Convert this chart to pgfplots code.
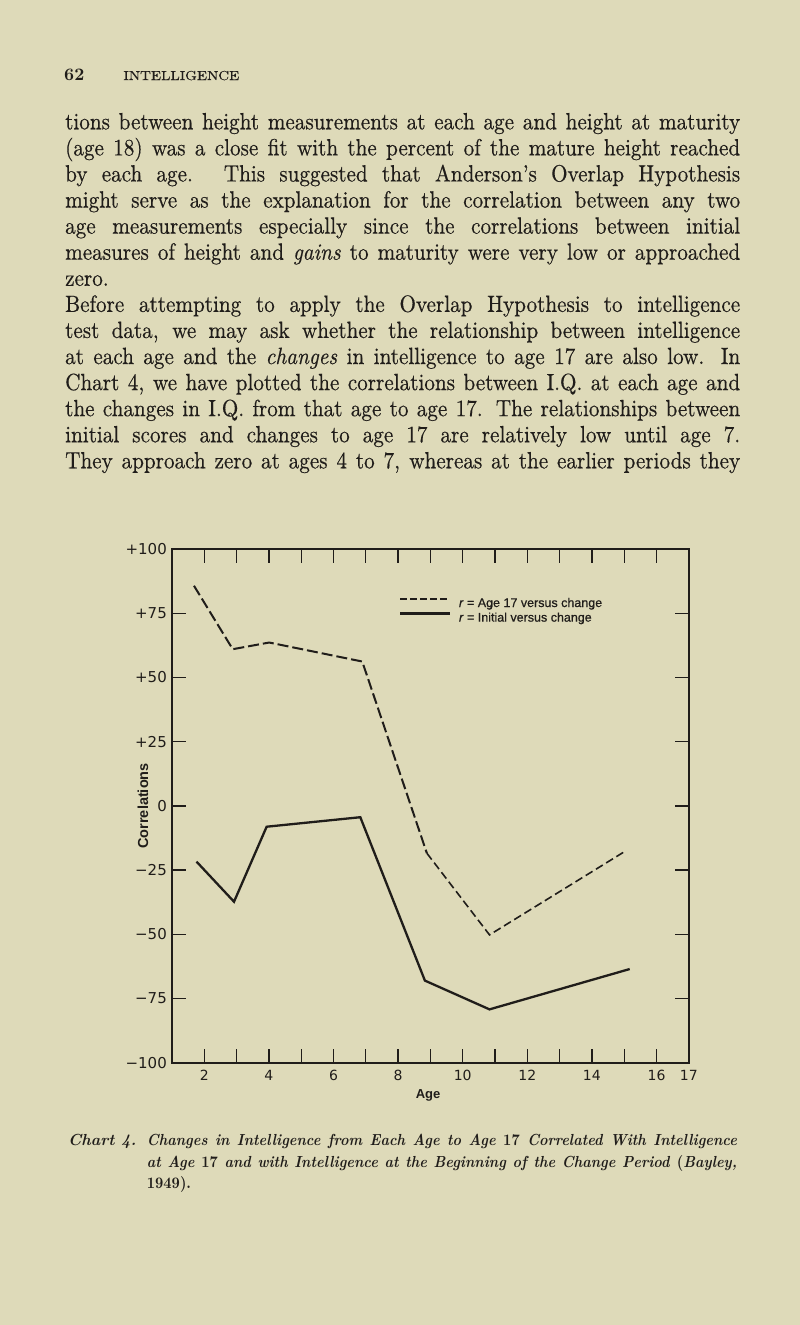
\documentclass[border=0pt]{standalone}
\usepackage{fontspec}
\setmainfont{lmroman10-regular.otf}[
  BoldFont=lmroman10-bold.otf,
  ItalicFont=lmroman10-italic.otf,
  BoldItalicFont=lmroman10-bolditalic.otf,
  UprightFeatures={FakeBold=0.45},
  ItalicFeatures={FakeBold=0.45}]
\usepackage{graphicx}
\usepackage{pgfplots}
\pgfplotsset{compat=1.18}
\newfontfamily\chartfont{Liberation Sans}[UprightFeatures={FakeBold=0.7}, ItalicFeatures={FakeBold=0.7}]
\newfontfamily\tickfont{DejaVu Sans}
\definecolor{paper}{RGB}{222,218,185}
\definecolor{ink}{RGB}{32,29,26}
\newcommand\jl[1]{\noindent\makebox[\linewidth][s]{#1}\par}

\begin{document}
\begin{tikzpicture}[x=1pt,y=1pt]
\fill[paper] (0,0) rectangle (800,-1325);

% running head
\node[anchor=base west, inner sep=0, text=ink] at (64,-80)
  {\fontsize{17.5}{20}\selectfont\bfseries 62};
\node[anchor=base west, inner sep=0, text=ink] at (123.3,-80)
  {\scalebox{1.15}[1]{\fontsize{13}{15}\selectfont INTELLIGENCE}};

% body text
\node[anchor=base west, inner sep=0, text=ink] at (65,-129.3) {\scalebox{0.9}[1]{%
\parbox[t]{750pt}{\fontsize{23.5}{26.08}\selectfont\parskip=0pt
\jl{tions between height measurements at each age and height at maturity}
\jl{(age 18) was a close fit with the percent of the mature height reached}
\jl{by each age.  This suggested that Anderson's Overlap Hypothesis}
\jl{might serve as the explanation for the correlation between any two}
\jl{age measurements especially since the correlations between initial}
\jl{measures of height and \textit{gains} to maturity were very low or approached}
\noindent zero.\par
\jl{Before attempting to apply the Overlap Hypothesis to intelligence}
\jl{test data, we may ask whether the relationship between intelligence}
\jl{at each age and the \textit{changes} in intelligence to age 17 are also low.  In}
\jl{Chart 4, we have plotted the correlations between I.Q. at each age and}
\jl{the changes in I.Q. from that age to age 17.  The relationships between}
\jl{initial scores and changes to age 17 are relatively low until age 7.}
\jl{They approach zero at ages 4 to 7, whereas at the earlier periods they}
}}};

% caption
\node[anchor=base west, inner sep=0, text=ink] at (68,-1145.7)
  {\fontsize{16}{21.3}\selectfont\bfseries\itshape Chart 4.};
\node[anchor=base west, inner sep=0, text=ink] at (146.7,-1145.7) {\scalebox{0.9}[1]{%
\parbox[t]{655.6pt}{\fontsize{16}{21.3}\selectfont\bfseries\itshape\parskip=0pt
\jl{Changes in Intelligence from Each Age to Age \textup{17} Correlated With Intelligence}
\jl{at Age \textup{17} and with Intelligence at the Beginning of the Change Period \textup{(}Bayley,}
\noindent\textup{1949).}\par
}}};

\begin{axis}[
  at={(172pt,-1062.8pt)}, anchor=south west,
  scale only axis, width=516.8pt, height=513.8pt,
  xmin=1, xmax=17, ymin=-100, ymax=100,
  axis line style={line width=2pt, draw=ink},
  tick align=inside, major tick length=14pt,
  every tick/.style={line width=1.3pt, draw=ink},
  xtick={2,3,...,17},
  xticklabels={2,,4,,6,,8,,10,,12,,14,,16,17},
  ytick={-75,-50,...,75},
  yticklabels={−75,−50,−25,0,+25,+50,+75},
  extra y ticks={-100,100},
  extra y tick labels={−100,+100},
  xticklabel style={font=\tickfont\fontsize{14}{14}\selectfont, text=ink,
    anchor=north, inner sep=0pt, yshift=-7.5pt},
  yticklabel style={font=\tickfont\fontsize{15}{15}\selectfont, text=ink,
    anchor=east, inner sep=0pt, xshift=-5pt},
  xlabel={Age},
  xlabel style={font=\chartfont\bfseries\fontsize{13}{14}\selectfont, text=ink,
    at={(axis description cs:0.4954,0)}, anchor=base, yshift=-35.2pt, inner sep=0pt},
  ylabel={Correlations},
  ylabel style={font=\chartfont\bfseries\fontsize{14.5}{15}\selectfont, text=ink,
    at={(axis description cs:-0.0561,0.5)}, anchor=center, inner sep=0pt},
  legend style={draw=none, fill=none, inner sep=0pt, outer sep=0pt,
    font=\chartfont\fontsize{12.5}{14}\selectfont, text=ink,
    at={(axis description cs:0.4398,0.9048)}, anchor=north west,
    nodes={inner sep=0pt}, row sep=3.9pt, column sep=7.4pt},
  legend cell align=left,
  legend image code/.code={\draw[#1] (0pt,4.3pt) -- (50pt,4.3pt);},
]
% r = Age 17 versus change (long dashes above, short dashes below)
\addplot[forget plot, ink, line width=2pt, dash pattern=on 11pt off 4pt] coordinates {
  (1.68,85.7) (2.88,61.0) (4.01,63.6) (6.89,56.2) (8.89,-18.4)
};
\addplot[forget plot, ink, line width=1.6pt, dash pattern=on 8pt off 4pt] coordinates {
  (8.89,-18.4) (10.83,-50.2) (15.06,-17.4)
};
% r = Initial versus change
\addplot[forget plot, ink, line width=2.3pt, line join=miter] coordinates {
  (1.76,-21.7) (2.92,-37.3) (3.93,-8.1) (6.83,-4.4) (8.83,-68.0) (10.83,-79.2) (15.17,-63.5)
};
\addlegendimage{ink, line width=2pt, dash pattern=on 7pt off 3pt}
\addlegendentry{\textit{r} = Age 17 versus change}
\addlegendimage{ink, line width=2.3pt}
\addlegendentry{\textit{r} = Initial versus change}
\end{axis}
\end{tikzpicture}
\end{document}
